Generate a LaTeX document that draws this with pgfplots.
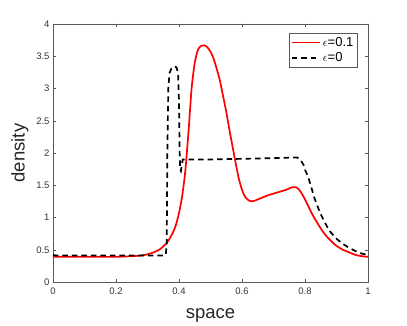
\documentclass[border=0pt]{standalone}
\usepackage{fontspec}
\setmainfont{Liberation Sans}
\usepackage{pgfplots}
\pgfplotsset{compat=1.18}

\begin{document}
\begin{tikzpicture}
\begin{axis}[
    scale only axis,
    width=315pt, height=258pt,
    xmin=0, xmax=1, ymin=0, ymax=4,
    xtick={0,0.2,...,1}, ytick={0,0.5,...,4},
    tick align=inside,
    major tick length=3pt,
    axis line style={gray!70!black},
    tick style={gray!70!black},
    tick label style={font=\fontsize{9.5}{10}\selectfont, text=black!80},
    xticklabel style={yshift=-2pt},
    /pgf/number format/assume math mode=true,
    xlabel={space}, ylabel={density},
    label style={font=\fontsize{18.5}{20}\selectfont, text=black!85},
    xlabel style={yshift=-7pt},
    ylabel style={yshift=1pt},
    legend style={at={(0.967,0.965)}, anchor=north east, draw=gray!70!black,
        font=\fontsize{13}{14}\selectfont, inner sep=2pt, row sep=1pt},
    legend cell align=left,
    legend image code/.code={\draw[#1] (0cm,0cm) -- (1.0cm,0cm);},
]
\addplot[red, line width=1.7pt, smooth, tension=0.4] coordinates {
(0,0.39) (0.05,0.39) (0.1,0.39) (0.15,0.39) (0.2,0.39) (0.25,0.40) (0.28,0.41)
(0.3,0.43) (0.32,0.46) (0.34,0.51) (0.36,0.60) (0.37,0.67) (0.38,0.76) (0.39,0.88)
(0.40,1.07) (0.41,1.33) (0.42,1.72) (0.43,2.32) (0.44,3.00) (0.45,3.40) (0.46,3.60)
(0.47,3.66) (0.48,3.67) (0.49,3.64) (0.50,3.57) (0.51,3.46) (0.52,3.30) (0.53,3.12)
(0.54,2.88) (0.55,2.64) (0.56,2.36) (0.57,2.10) (0.58,1.84) (0.59,1.60) (0.60,1.43)
(0.61,1.32) (0.62,1.27) (0.63,1.25) (0.64,1.26) (0.66,1.30) (0.68,1.34) (0.70,1.37)
(0.72,1.40) (0.74,1.43) (0.76,1.47) (0.77,1.47) (0.78,1.44) (0.79,1.37) (0.80,1.28)
(0.81,1.18) (0.82,1.08) (0.83,0.99) (0.84,0.91) (0.85,0.83) (0.86,0.76) (0.87,0.70)
(0.88,0.65) (0.89,0.60) (0.90,0.56) (0.92,0.50) (0.94,0.46)
(0.96,0.42) (0.98,0.40) (1.00,0.39)
};
\addlegendentry{$\epsilon$=0.1}
\addplot[black, line width=1.7pt, dash pattern=on 5.5pt off 4pt] coordinates {
(0,0.42) (0.01,0.41) (0.1,0.41) (0.2,0.41) (0.3,0.41) (0.35,0.41) (0.358,0.42)
(0.361,0.6) (0.363,2.0) (0.366,3.0) (0.370,3.24) (0.376,3.31) (0.384,3.34)
(0.392,3.33) (0.397,3.24) (0.400,2.8) (0.402,2.0) (0.404,1.74) (0.406,1.72)
(0.409,1.82) (0.412,1.90) (0.5,1.90) (0.6,1.91) (0.7,1.92) (0.76,1.93) (0.775,1.93)
(0.785,1.90) (0.795,1.82) (0.80,1.74) (0.81,1.63) (0.82,1.47) (0.83,1.30) (0.84,1.17)
(0.85,1.05) (0.86,0.95) (0.87,0.86) (0.88,0.78) (0.90,0.67) (0.92,0.59) (0.94,0.53)
(0.96,0.48) (0.98,0.44) (1.0,0.42)
};
\addlegendentry{$\epsilon$=0}
\end{axis}
\path[draw=none] ([xshift=-53pt,yshift=-43pt]current axis.south west)
    rectangle ([xshift=39pt,yshift=24pt]current axis.north east);
\end{tikzpicture}
\end{document}
